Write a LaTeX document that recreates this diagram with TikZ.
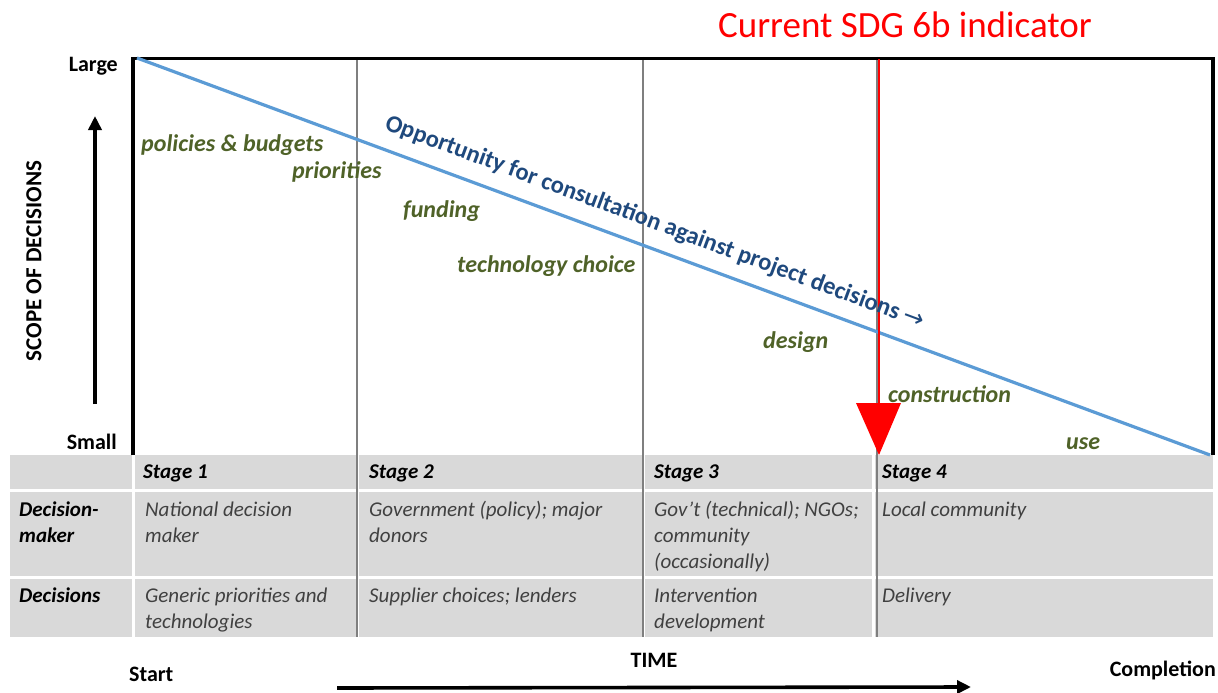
\documentclass[tikz,border=0pt]{standalone}
\usepackage{fontspec}
\setmainfont{Carlito}
\newfontfamily\dejavu{DejaVu Sans}
\usetikzlibrary{arrows.meta}
\definecolor{lblgreen}{HTML}{4F6228}
\definecolor{lblblue}{HTML}{1F497D}
\definecolor{lineblue}{HTML}{5B9BD5}
\definecolor{cellgray}{HTML}{D9D9D9}
\definecolor{celltext}{HTML}{404040}
\definecolor{stageline}{HTML}{7F7F7F}
\begin{document}
\begin{tikzpicture}[x=1pt,y=-1pt,
  greenlbl/.style={font=\fontsize{24}{28}\selectfont\bfseries\itshape, text=lblgreen, inner sep=0pt, anchor=base west},
  celltxt/.style={font=\fontsize{21}{26}\selectfont\itshape, text=celltext, anchor=north west, align=left, inner sep=0pt},
  hdrtxt/.style={font=\fontsize{21}{26}\selectfont\bfseries\itshape, text=black, anchor=north west, align=left, inner sep=0pt},
  axislbl/.style={font=\fontsize{22}{26}\selectfont\bfseries, inner sep=0pt},
  frameline/.style={line width=3.5pt, black},
  stagesep/.style={line width=1.4pt, stageline},
  whitesep/.style={line width=3pt, white},
  bigarrow/.style={line width=3.6pt, -{Triangle[length=14pt,width=13pt]}},
]
\useasboundingbox (0,0) rectangle (1218,693);

% table background
\fill[cellgray] (10,455) rectangle (1213,637);
\draw[whitesep] (10,490.5) -- (1213,490.5);
\draw[whitesep] (10,577) -- (1213,577);
\draw[whitesep] (133.5,455) -- (133.5,637);
\draw[whitesep] (357,455) -- (357,637);
\draw[whitesep] (643,455) -- (643,637);
\draw[whitesep] (873,455) -- (873,637);

% named coordinates
\coordinate (tl) at (133,57);
\coordinate (tr) at (1213,57);
\coordinate (bl) at (133,455);
\coordinate (br) at (1213,455);
\coordinate (s2t) at (357,57);
\coordinate (s2b) at (357,637);
\coordinate (s3t) at (643,57);
\coordinate (s3b) at (643,637);
\coordinate (s4t) at (877,57);
\coordinate (s4b) at (877,637);

% stage separators
\draw[stagesep] (s2t) -- (s2b);
\draw[stagesep] (s3t) -- (s3b);
\draw[stagesep] (s4t) -- (s4b);

% frame
\draw[frameline] (bl) -- ([yshift=-1.5pt]tl) -- ([yshift=-1.5pt]tr) -- (br);

% blue line
\coordinate (lstart) at (137,58);
\coordinate (lend) at (1210,455);
\draw[lineblue, line width=3.2pt] (lstart) -- (lend);

% red indicator
\coordinate (rtop) at (879,59);
\coordinate (rhead) at (879,403);
\coordinate (rtip) at (879,455);
\draw[red, line width=2.6pt] (rtop) -- (rhead);
\fill[red] (856,403) -- (901,403) -- (rtip) -- cycle;
\node[font=\fontsize{37}{40}\selectfont, text=red, inner sep=0pt, anchor=base] (sdg) at (905,38) {Current SDG 6b indicator};

% axis labels
\node[axislbl, anchor=base east] (large) at (118,72) {Large};
\node[axislbl, anchor=base east] (small) at (117,449) {Small};
\coordinate (scopebot) at (95,404);
\coordinate (scopetop) at (95,116);
\draw[bigarrow] (scopebot) -- (scopetop);
\node[axislbl, font=\fontsize{23}{26}\selectfont\bfseries, rotate=90] (scope) at (34,261) {SCOPE OF DECISIONS};

% green labels
\node[greenlbl] (pol) at (141,151) {policies \& budgets};
\node[greenlbl] (pri) at (292,178) {priorities};
\node[greenlbl] (fun) at (403,217) {funding};
\node[greenlbl] (tec) at (457,272) {technology choice};
\node[greenlbl] (des) at (763,348) {design};
\node[greenlbl] (con) at (888,402) {construction};
\node[greenlbl] (use) at (1066,449) {use};

% blue diagonal label
\node[font=\fontsize{24.5}{28}\selectfont\bfseries, text=lblblue, inner sep=0pt, rotate=-20.4] (opp) at (655,223) {Opportunity for consultation against project decisions {\dejavu\mdseries\fontsize{25}{28}\selectfont →}};

% table header row
\node[hdrtxt] (st1) at (143,462) {\rule{0pt}{16pt}Stage 1};
\node[hdrtxt] (st2) at (369,462) {\rule{0pt}{16pt}Stage 2};
\node[hdrtxt] (st3) at (654,462) {\rule{0pt}{16pt}Stage 3};
\node[hdrtxt] (st4) at (882,462) {\rule{0pt}{16pt}Stage 4};

% decision-maker row
\node[hdrtxt] (dmh) at (19,500) {\rule{0pt}{16pt}Decision-\\maker};
\node[celltxt] (dm1) at (145,500) {\rule{0pt}{16pt}National decision\\maker};
\node[celltxt] (dm2) at (369,500) {\rule{0pt}{16pt}Government (policy); major\\donors};
\node[celltxt] (dm3) at (654,500) {\rule{0pt}{16pt}Gov’t (technical); NGOs;\\community\\(occasionally)};
\node[celltxt] (dm4) at (882,500) {\rule{0pt}{16pt}Local community};

% decisions row
\node[hdrtxt] (dch) at (19,586) {\rule{0pt}{16pt}Decisions};
\node[celltxt] (dc1) at (145,586) {\rule{0pt}{16pt}Generic priorities and\\technologies};
\node[celltxt] (dc2) at (369,586) {\rule{0pt}{16pt}Supplier choices; lenders};
\node[celltxt] (dc3) at (654,586) {\rule{0pt}{16pt}Intervention\\development};
\node[celltxt] (dc4) at (882,586) {\rule{0pt}{16pt}Delivery};

% time axis
\node[axislbl, anchor=base] (time) at (654,667) {TIME};
\node[axislbl, anchor=base west] (start) at (129,681) {Start};
\node[axislbl, anchor=base east] (compl) at (1216,676) {Completion};
\coordinate (tstart) at (337,688);
\coordinate (tend) at (971,687);
\draw[bigarrow] (tstart) -- (tend);
\end{tikzpicture}
\end{document}
